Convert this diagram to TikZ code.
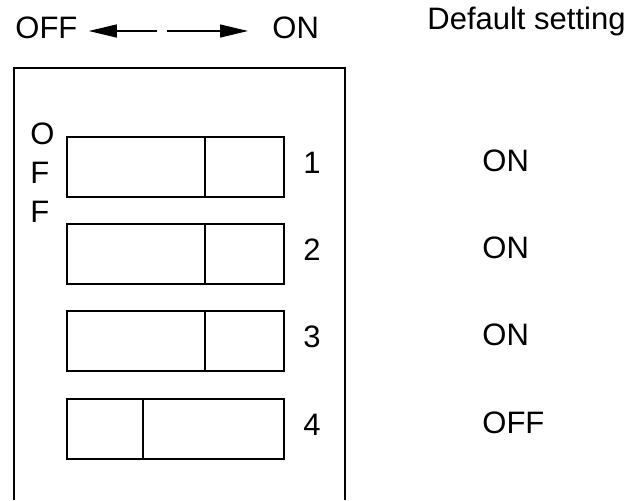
\documentclass[tikz,border=0pt]{standalone}
\usepackage{fontspec}
\setmainfont{Liberation Sans}
\usetikzlibrary{positioning,calc,arrows.meta}
\tikzset{lbl/.style={inner sep=0, font=\fontsize{15.5}{19.5}\selectfont}}
\tikzset{swbox/.style={draw, line width=1pt, minimum width=108.5pt, minimum height=30pt, inner sep=0}}
\tikzset{lever/.style={draw, line width=1pt}}
\tikzset{arr/.style={draw, -{Triangle[length=14pt,width=6.5pt]}, line width=0.6pt}}

\begin{document}
\begin{tikzpicture}[x=0.5pt, y=-0.5pt]
  \useasboundingbox (0,0) rectangle (643,500);
  \node[lbl, anchor=base west] (off) at (15,38) {OFF};
  \node[lbl, anchor=base west] (on) at (272,38) {ON};
  \node[lbl, anchor=base west] (dflt) at (427,29) {Default setting};
  \coordinate (ml) at (157,31);
  \coordinate (mr) at (167,31);
  \draw[arr, shorten >=5.5pt] (ml) -- (off.east |- ml);
  \draw[arr, shorten >=12pt] (mr) -- (on.west |- mr);
  % housing
  \draw[line width=1pt] (14,500) -- (14,68) -- (345,68) -- (345,500);
  \node[lbl, anchor=north west, align=left] (offv) at (30,122) {O\\F\\F};
  \foreach \i/\ypos/\lx/\st in {1/167/139/ON, 2/254/139/ON, 3/341/139/ON, 4/429/77/OFF}{
    \node[swbox] (sw\i) at (175.5,\ypos) {};
    \draw[lever] ($(sw\i.north west)+(\lx,0)$) -- ($(sw\i.south west)+(\lx,0)$);
    \node[lbl, right=9pt of sw\i, yshift=2pt] (n\i) {\i};
    \node[lbl, anchor=west] (d\i) at (482,\ypos-6) {\st};
  }
\end{tikzpicture}
\end{document}
